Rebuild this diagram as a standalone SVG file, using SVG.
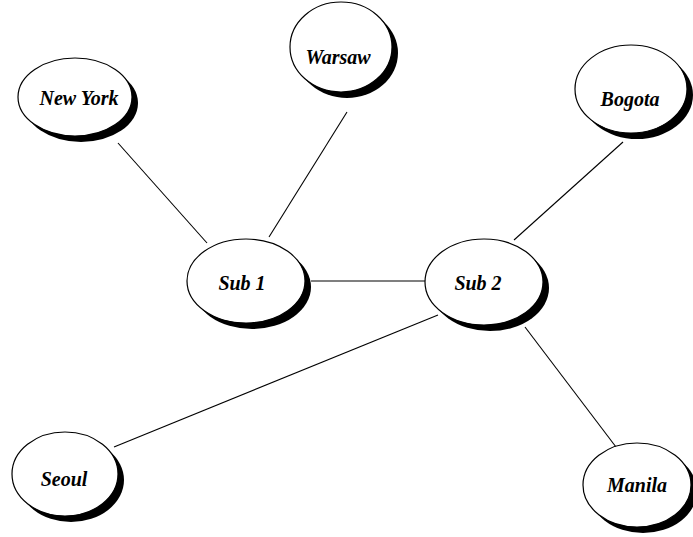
<svg xmlns="http://www.w3.org/2000/svg" width="693" height="537" viewBox="0 0 693 537">
  <style>
    .shadow { fill: #000; stroke: none; }
    .body { fill: #fff; stroke: #000; stroke-width: 1.2; }
    .label { font-family: "Liberation Serif", "Times New Roman", serif; font-weight: bold; font-style: italic; font-size: 20px; fill: #000; text-anchor: middle; dominant-baseline: central; }
    .link { stroke: #000; stroke-width: 1.1; fill: none; }
  </style>
  <rect width="693" height="537" fill="#fff"/>

  <g id="connectors">
    <line class="link" x1="118" y1="143" x2="207" y2="243"/>
    <line class="link" x1="347" y1="112" x2="269" y2="237"/>
    <line class="link" x1="311" y1="281" x2="426" y2="281"/>
    <line class="link" x1="623" y1="142" x2="514" y2="240"/>
    <line class="link" x1="438" y1="315" x2="114" y2="447"/>
    <line class="link" x1="525" y1="327" x2="616" y2="447"/>
  </g>

  <g id="new-york">
    <ellipse class="shadow" cx="81" cy="103" rx="57" ry="39"/>
    <ellipse class="body" cx="75" cy="97" rx="57" ry="39"/>
    <text class="label" x="79" y="98">New York</text>
  </g>

  <g id="warsaw">
    <ellipse class="shadow" cx="347" cy="53" rx="51" ry="45"/>
    <ellipse class="body" cx="341" cy="47" rx="51" ry="45"/>
    <text class="label" x="338" y="57">Warsaw</text>
  </g>

  <g id="bogota">
    <ellipse class="shadow" cx="637" cy="95" rx="56" ry="44"/>
    <ellipse class="body" cx="631" cy="89" rx="56" ry="44"/>
    <text class="label" x="630" y="99">Bogota</text>
  </g>

  <g id="sub-1">
    <ellipse class="shadow" cx="252" cy="287" rx="59" ry="42"/>
    <ellipse class="body" cx="246" cy="281" rx="59" ry="42"/>
    <text class="label" x="242" y="283">Sub 1</text>
  </g>

  <g id="sub-2">
    <ellipse class="shadow" cx="490" cy="288" rx="59" ry="43"/>
    <ellipse class="body" cx="484" cy="282" rx="59" ry="43"/>
    <text class="label" x="478" y="283">Sub 2</text>
  </g>

  <g id="seoul">
    <ellipse class="shadow" cx="71" cy="480" rx="53" ry="42"/>
    <ellipse class="body" cx="65" cy="474" rx="53" ry="42"/>
    <text class="label" x="64" y="479">Seoul</text>
  </g>

  <g id="manila">
    <ellipse class="shadow" cx="643" cy="491" rx="54" ry="42"/>
    <ellipse class="body" cx="637" cy="485" rx="54" ry="42"/>
    <text class="label" x="637" y="485">Manila</text>
  </g>
</svg>
